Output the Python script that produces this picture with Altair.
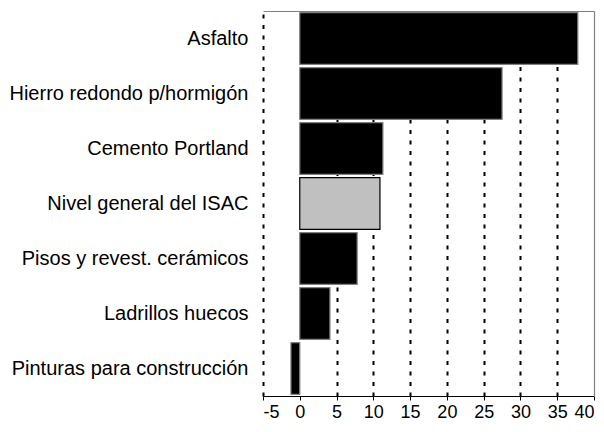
import altair as alt
import pandas as pd

categories = [
    "Asfalto",
    "Hierro redondo p/hormigón",
    "Cemento Portland",
    "Nivel general del ISAC",
    "Pisos y revest. cerámicos",
    "Ladrillos huecos",
    "Pinturas para construcción",
]
values = [37.8, 27.5, 11.3, 10.9, 7.8, 4.1, -1.2]
highlight = [False, False, False, True, False, False, False]
x_ticks = [-5, 0, 5, 10, 15, 20, 25, 30, 35, 40]

df = pd.DataFrame({"cat": categories, "val": values, "hl": highlight})

FONT = "Liberation Sans"
BORDER = "#808080"

y_scale = alt.Scale(paddingInner=0.06, paddingOuter=0.03)
x_scale = alt.Scale(domain=[-5, 40], nice=False, zero=False)

bars = (
    alt.Chart(df)
    .mark_bar(strokeWidth=1.2)
    .encode(
        y=alt.Y(
            "cat:N",
            sort=categories,
            title=None,
            scale=y_scale,
            axis=alt.Axis(
                ticks=False,
                domain=False,
                labelPadding=15,
                labelFontSize=20,
                labelFont=FONT,
                labelColor="black",
                labelLimit=400,
            ),
        ),
        x=alt.X(
            "val:Q",
            title=None,
            scale=x_scale,
            axis=alt.Axis(
                values=x_ticks,
                labelExpr="'' + datum.value",
                grid=True,
                gridColor="black",
                gridWidth=2,
                gridDash=[4, 6.5],
                gridOpacity={
                    "condition": {"test": "datum.value === 40 || datum.value === 0", "value": 0},
                    "value": 1,
                },
                domainColor="black",
                domainWidth=1.2,
                tickColor="black",
                tickSize=4,
                labelPadding=3,
                labelFontSize=18,
                labelFont=FONT,
                labelColor="black",
            ),
        ),
        color=alt.Color(
            "hl:N",
            scale=alt.Scale(domain=[False, True], range=["#000000", "#c0c0c0"]),
            legend=None,
        ),
        stroke=alt.Stroke(
            "hl:N",
            scale=alt.Scale(domain=[False, True], range=["#808080", "#000000"]),
            legend=None,
        ),
    )
)

# invisible layer carrying the top and right frame lines as axis domains
frame = (
    alt.Chart(df)
    .mark_bar(opacity=0)
    .encode(
        y=alt.Y(
            "cat:N",
            sort=categories,
            title=None,
            axis=alt.Axis(
                orient="right", labels=False, ticks=False, grid=False,
                domain=True, domainColor=BORDER, domainWidth=1.2,
            ),
        ),
        x=alt.X(
            "val:Q",
            title=None,
            axis=alt.Axis(
                orient="top", labels=False, ticks=False, grid=False,
                domain=True, domainColor=BORDER, domainWidth=1.2,
            ),
        ),
    )
)

chart = (
    alt.layer(bars, frame)
    .resolve_axis(x="independent", y="independent")
    .properties(
        width=331,
        height=385,
        background="white",
        autosize=alt.AutoSizeParams(type="none"),
        padding={"left": 255, "top": 3, "right": 2, "bottom": 24},
    )
    .configure_view(stroke=None)
)

chart.save("out.html", embed_options={"renderer": "svg", "actions": False})
